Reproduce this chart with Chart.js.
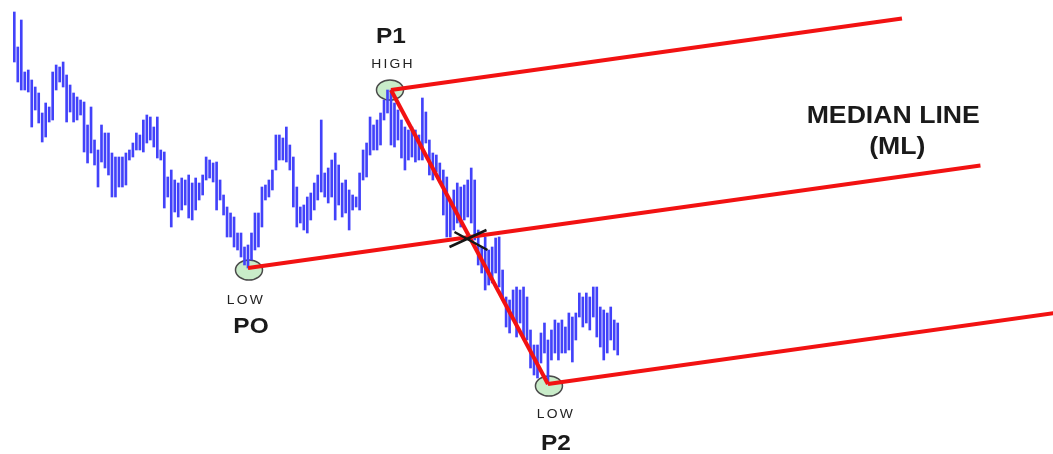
<!DOCTYPE html>
<html>
<head>
<meta charset="utf-8">
<title>Median Line</title>
<script src="https://cdn.jsdelivr.net/npm/chart.js@4.4.1/dist/chart.umd.min.js"></script>
<style>
    html, body { margin: 0; padding: 0; background: #ffffff; }
    #wrap { width: 1053px; height: 454px; position: relative; }
</style>
</head>
<body>
<div id="wrap"><canvas id="forkChart"></canvas></div>
<script>
// ===== DATA (bar index = position in the arrays) =====

// Bar highs and lows (price units)
const highs = [
    442, 407, 434, 382, 384, 374, 367, 361, 341, 351,
    347, 382, 389, 387, 392, 379, 369, 361, 357, 354,
    352, 329, 347, 314, 304, 329, 321, 321, 301, 297,
    297, 297, 301, 304, 311, 321, 319, 334, 339, 337,
    327, 337, 304, 302, 277, 284, 274, 271, 276, 274,
    279, 271, 276, 271, 279, 297, 294, 291, 292, 274,
    259, 247, 241, 237, 221, 221, 207, 209, 221, 241,
    241, 267, 269, 274, 284, 319, 319, 316, 327, 309,
    297, 267, 247, 249, 257, 261, 271, 279, 334, 281,
    286, 294, 301, 289, 271, 274, 264, 259, 257, 281,
    304, 311, 337, 329, 334, 341, 354, 364, 364, 351,
    344, 334, 327, 324, 327, 324, 319, 356, 342, 314,
    301, 299, 291, 284, 277, 251, 264, 271, 267, 269,
    274, 286, 274, 224, 207, 217, 204, 207, 216, 217,
    184, 157, 154, 164, 167, 164, 167, 157, 124, 109,
    109, 121, 131, 114, 124, 134, 131, 134, 127, 141,
    137, 141, 161, 157, 161, 157, 167, 167, 147, 144,
    141, 147, 134, 131
];
const lows = [
    392, 372, 364, 364, 362, 327, 344, 331, 312, 317,
    332, 334, 364, 372, 367, 332, 342, 332, 334, 339,
    302, 291, 301, 289, 267, 292, 286, 279, 257, 257,
    267, 267, 269, 294, 297, 304, 304, 302, 311, 314,
    307, 296, 294, 246, 257, 227, 242, 237, 244, 249,
    236, 234, 244, 254, 259, 274, 276, 272, 244, 254,
    239, 217, 217, 207, 204, 197, 189, 186, 194, 204,
    207, 227, 254, 257, 264, 284, 294, 294, 292, 284,
    247, 227, 231, 224, 221, 234, 244, 254, 262, 257,
    251, 257, 234, 249, 237, 241, 224, 244, 247, 244,
    274, 277, 299, 304, 304, 309, 334, 341, 309, 307,
    314, 296, 284, 294, 297, 292, 294, 294, 311, 279,
    274, 282, 274, 239, 217, 217, 224, 231, 227, 234,
    237, 231, 214, 189, 181, 164, 169, 171, 181, 167,
    154, 127, 121, 134, 117, 131, 117, 114, 86, 79,
    76, 91, 101, 70, 94, 101, 94, 101, 101, 104,
    92, 114, 137, 127, 131, 124, 137, 117, 107, 94,
    101, 114, 104, 99
];

// Pivot points P0 (low), P1 (high), P2 (low)
const pivotIndex = [67, 108, 153];
const pivotPrice = [lows[67], highs[108], lows[153]];
const pivotNames = ['PO', 'P1', 'P2'];
const pivotKinds = ['LOW', 'HIGH', 'LOW'];

// Where each prong stops: median, upper, lower (bar index)
const prongEnds = [277, 254.5, 298];

// ===== PITCHFORK GEOMETRY =====
const midIndex = (pivotIndex[1] + pivotIndex[2]) / 2;
const midPrice = (pivotPrice[1] + pivotPrice[2]) / 2;
const slope = (midPrice - pivotPrice[0]) / (midIndex - pivotIndex[0]);

function prong(startIdx, startPrice, endIdx) {
    return [
        { x: startIdx, y: startPrice },
        { x: endIdx, y: startPrice + slope * (endIdx - startIdx) }
    ];
}

const barData = highs.map((h, i) => ({ x: i, y: [lows[i], h] }));

const RED = '#f21212';
const BLUE = '#4242fa';

function redLine(points, label) {
    return {
        type: 'line',
        label: label,
        data: points,
        borderColor: RED,
        borderWidth: 4,
        pointRadius: 0,
        fill: false,
        tension: 0,
        order: 0
    };
}

// Draws text stretched a bit sideways like the original artwork
function stretchedText(ctx, text, x, y, font, color, spacing) {
    ctx.save();
    ctx.font = font;
    ctx.fillStyle = color;
    ctx.textAlign = 'center';
    ctx.textBaseline = 'alphabetic';
    ctx.letterSpacing = spacing || '0px';
    ctx.translate(x, y);
    ctx.scale(1.11, 1);
    ctx.fillText(text, 0, 0);
    ctx.restore();
}

// Pivot ellipses go under the bars
const pivotMarks = {
    id: 'pivotMarks',
    beforeDatasetsDraw(chart) {
        const { ctx, scales } = chart;
        pivotIndex.forEach((idx, k) => {
            const px = scales.x.getPixelForValue(idx);
            const py = scales.y.getPixelForValue(pivotPrice[k]);
            ctx.save();
            ctx.beginPath();
            ctx.ellipse(px + (k === 1 ? -1 : 1), py + (k === 1 ? 0 : 2), 13.5, 10, 0, 0, Math.PI * 2);
            ctx.fillStyle = '#c9ecc9';
            ctx.fill();
            ctx.lineWidth = 1.5;
            ctx.strokeStyle = '#4a4a4a';
            ctx.stroke();
            ctx.restore();
        });
    },
    afterDatasetsDraw(chart) {
        const { ctx, scales } = chart;

        // Cross at the middle of P1-P2
        const mx = scales.x.getPixelForValue(midIndex);
        const my = scales.y.getPixelForValue(midPrice);
        ctx.save();
        ctx.strokeStyle = '#151515';
        ctx.lineWidth = 2.5;
        ctx.beginPath();
        ctx.moveTo(mx - 20, my + 10);
        ctx.lineTo(mx + 17, my - 7);
        ctx.moveTo(mx - 15, my - 5);
        ctx.lineTo(mx + 18, my + 13);
        ctx.stroke();
        ctx.restore();

        // Pivot labels
        const big = 'bold 22px "Liberation Sans", Arial, sans-serif';
        const small = '12.5px "Liberation Sans", Arial, sans-serif';
        pivotIndex.forEach((idx, k) => {
            const px = scales.x.getPixelForValue(idx);
            const py = scales.y.getPixelForValue(pivotPrice[k]);
            if (pivotKinds[k] === 'HIGH') {
                stretchedText(ctx, pivotKinds[k], px + 2, py - 22, small, '#222', '2px');
                stretchedText(ctx, pivotNames[k], px, py - 47, big, '#1a1a1a');
            } else if (k === 0) {
                stretchedText(ctx, pivotKinds[k], px - 2, py + 36, small, '#222', '2px');
                stretchedText(ctx, pivotNames[k], px + 3, py + 65, big, '#1a1a1a');
            } else {
                stretchedText(ctx, pivotKinds[k], px + 8, py + 34, small, '#222', '2px');
                stretchedText(ctx, pivotNames[k], px + 8, py + 66, big, '#1a1a1a');
            }
        });

        // Median line caption
        const capIdx = 252;
        const cx = scales.x.getPixelForValue(capIdx);
        const cy = scales.y.getPixelForValue(pivotPrice[0] + slope * (capIdx - pivotIndex[0]));
        const capFont = 'bold 24px "Liberation Sans", Arial, sans-serif';
        stretchedText(ctx, 'MEDIAN LINE', cx, cy - 55, capFont, '#1a1a1a');
        stretchedText(ctx, '(ML)', cx + 4, cy - 24, capFont, '#1a1a1a');
    }
};

document.addEventListener('DOMContentLoaded', function() {
    const ctx = document.getElementById('forkChart');
    if (typeof Chart === 'undefined') {
        console.log('Chart.js not loaded');
        return;
    }

    new Chart(ctx, {
        type: 'bar',
        data: {
            datasets: [
                redLine(prong(pivotIndex[1], pivotPrice[1], pivotIndex[2]).map((p, i) =>
                    i === 0 ? p : { x: pivotIndex[2], y: pivotPrice[2] }), 'P1-P2'),
                redLine(prong(pivotIndex[0], pivotPrice[0], prongEnds[0]), 'Median'),
                redLine(prong(pivotIndex[1], pivotPrice[1], prongEnds[1]), 'Upper'),
                redLine(prong(pivotIndex[2], pivotPrice[2], prongEnds[2]), 'Lower'),
                {
                    type: 'bar',
                    label: 'Price',
                    data: barData,
                    backgroundColor: BLUE,
                    borderWidth: 0,
                    barThickness: 2,
                    order: 1
                }
            ]
        },
        options: {
            responsive: true,
            maintainAspectRatio: false,
            animation: false,
            layout: { padding: 0 },
            plugins: {
                legend: { display: false },
                tooltip: { enabled: false }
            },
            scales: {
                x: { type: 'linear', min: -4.1, max: 297.8, offset: false, display: false },
                y: { type: 'linear', min: 0, max: 454, display: false }
            }
        },
        plugins: [pivotMarks]
    });
});
</script>
</body>
</html>
